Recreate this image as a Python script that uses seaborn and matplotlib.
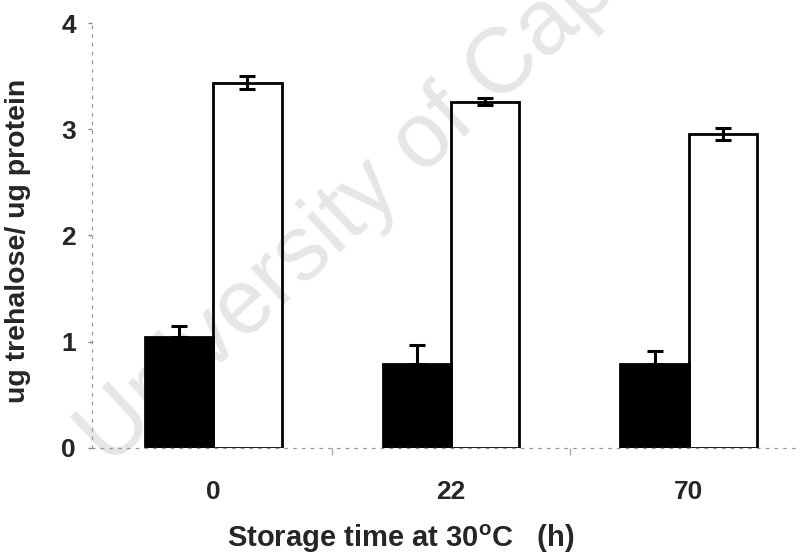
import matplotlib
matplotlib.use("Agg")
import matplotlib.pyplot as plt
import seaborn as sns
import pandas as pd
import numpy as np

# ---- data ----
times = ["0", "22", "70"]
series = ["black", "white"]
black_vals = [1.04, 0.79, 0.79]
black_err = [0.11, 0.175, 0.12]
white_vals = [3.44, 3.26, 2.955]
white_err = [0.065, 0.035, 0.06]
y_ticks = [0, 1, 2, 3, 4]

sns.set_theme(style="white")
plt.rcParams["font.family"] = ["Liberation Sans", "DejaVu Sans"]

df = pd.DataFrame({
    "time": times * 2,
    "series": [series[0]] * 3 + [series[1]] * 3,
    "value": black_vals + white_vals,
})

fig = plt.figure(figsize=(8.05, 5.57), dpi=100)
ax = fig.add_axes([0.1143, 0.1957, 0.8800, 0.7630])

# watermark (behind bars)
ax.text(0.135, 1 - 468 / 557, "University of Cape Town", rotation=43,
        rotation_mode="anchor", ha="left", va="baseline",
        fontsize=66, color="#e6e6e6", zorder=0.5,
        transform=fig.transFigure, clip_on=False)

sns.barplot(data=df, x="time", y="value", hue="series", order=times,
            hue_order=series, palette={"black": "black", "white": "white"},
            edgecolor="black", linewidth=2.0, width=0.575, gap=0,
            errorbar=None, legend=False, ax=ax, zorder=2)

# error bars using bar positions from seaborn
bars = [p for p in ax.patches if p.get_height() > 0]
bars_sorted = sorted(bars, key=lambda p: p.get_x())
b_bars = [p for p in bars_sorted if p.get_facecolor()[0] < 0.5]
w_bars = [p for p in bars_sorted if p.get_facecolor()[0] >= 0.5]
for p in w_bars:
    p.set_facecolor((1, 1, 1, 0))
for p, v, e in zip(b_bars, black_vals, black_err):
    xc = p.get_x() + p.get_width() / 2
    ax.errorbar([xc], [v], yerr=[[0], [e]], fmt="none", ecolor="black",
                elinewidth=2.2, capsize=6, capthick=2.2, zorder=3)
for p, v, e in zip(w_bars, white_vals, white_err):
    xc = p.get_x() + p.get_width() / 2
    ax.errorbar([xc], [v], yerr=[[e], [e]], fmt="none", ecolor="black",
                elinewidth=2.2, capsize=6, capthick=2.2, zorder=3)

ax.set_xlim(-0.51, 2.47)
ax.set_ylim(0, 4)
ax.set_yticks(y_ticks)
ax.set_yticklabels([str(t) for t in y_ticks], fontsize=19, fontweight="bold")
ax.set_xticklabels(times, fontsize=19, fontweight="bold")
ax.tick_params(axis="x", length=0, pad=23)
ax.tick_params(axis="y", length=3, width=1, color="#888888", pad=8.5, left=True)
ax.set_xticks([0.5, 1.5], minor=True)
ax.tick_params(axis="x", which="minor", length=5, width=1, color="#aaaaaa", bottom=True)

ax.set_xlabel("Storage time at 30$^{\\mathregular{o}}$C   (h)", fontsize=21,
              fontweight="bold")
ax.xaxis.set_label_coords((401 - 92) / 708, -(539 - 448) / 425)
ax.xaxis.label.set_va("center")
ax.set_ylabel("ug trehalose/ ug protein", fontsize=20.5, fontweight="bold")
ax.yaxis.set_label_coords(-(92 - 18) / 708, (448 - 241) / 425)
ax.yaxis.label.set_va("center")

for s in ["top", "right"]:
    ax.spines[s].set_visible(False)
for s in ["left", "bottom"]:
    ax.spines[s].set_color("#999999")
    ax.spines[s].set_linewidth(0.9)
    ax.spines[s].set_linestyle((0, (2, 5)))
ax.patch.set_alpha(0)

fig.savefig("out.png", dpi=100)
